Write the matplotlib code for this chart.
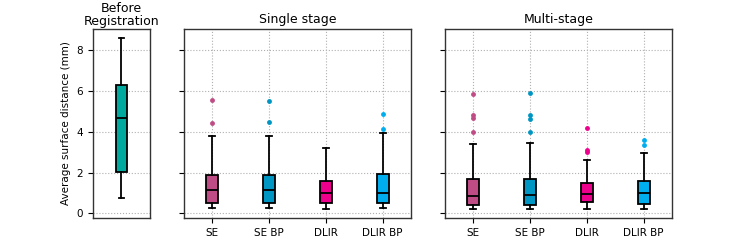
import matplotlib
matplotlib.use('Agg')
import matplotlib.pyplot as plt

# box statistics: (whislo, q1, med, q3, whishi, fliers)
methods = ['SE', 'SE BP', 'DLIR', 'DLIR BP']
colors = ['#c04c85', '#0096c4', '#ec008c', '#00aeef']
before_color = '#00a99d'

before_stats = [0.77, 2.01, 4.67, 6.27, 8.58, []]

single_stats = [
    [0.25, 0.49, 1.13, 1.89, 3.79, [5.55, 4.44]],
    [0.25, 0.49, 1.13, 1.86, 3.77, [5.52, 4.47]],
    [0.20, 0.49, 0.98, 1.60, 3.19, []],
    [0.29, 0.49, 1.01, 1.91, 3.95, [4.87, 4.15]],
]

multi_stats = [
    [0.20, 0.44, 0.88, 1.70, 3.40, [5.86, 4.82, 4.66, 3.99]],
    [0.20, 0.44, 0.90, 1.67, 3.45, [5.88, 4.84, 4.64, 3.99]],
    [0.23, 0.54, 0.95, 1.50, 2.60, [4.20, 3.10, 3.02]],
    [0.23, 0.47, 0.98, 1.58, 2.97, [3.59, 3.36]],
]


def to_dict(s, label):
    return dict(whislo=s[0], q1=s[1], med=s[2], q3=s[3], whishi=s[4],
                fliers=s[5], label=label)


def draw(ax, stats, labels, cols):
    bp = ax.bxp([to_dict(s, l) for s, l in zip(stats, labels)],
                widths=0.21, patch_artist=True, showfliers=True,
                boxprops=dict(linewidth=1.3, edgecolor='black'),
                medianprops=dict(color='black', linewidth=1.3),
                whiskerprops=dict(linewidth=1.3),
                capprops=dict(linewidth=1.3))
    for patch, c in zip(bp['boxes'], cols):
        patch.set_facecolor(c)
    for fl, c in zip(bp['fliers'], cols):
        fl.set(marker='o', markersize=3.5, markerfacecolor=c,
               markeredgecolor='none')
    ax.grid(True, linestyle=':', color='#b0b0b0', linewidth=0.8)
    ax.set_axisbelow(True)
    ax.tick_params(labelsize=7.5)
    for sp in ax.spines.values():
        sp.set_linewidth(1.0)
        sp.set_color('#333333')


fig = plt.figure(figsize=(7.47, 2.49), dpi=100)
ax0 = fig.add_axes([0.1245, 0.1245, 0.0763, 0.759])
ax1 = fig.add_axes([0.2463, 0.1245, 0.3039, 0.759], sharey=ax0)
ax2 = fig.add_axes([0.5957, 0.1245, 0.3039, 0.759], sharey=ax0)

draw(ax0, [before_stats], [''], [before_color])
draw(ax1, single_stats, methods, colors)
draw(ax2, multi_stats, methods, colors)

ax0.set_xticks([])
ax0.set_ylim(-0.22, 9.02)
ax0.set_yticks([0, 2, 4, 6, 8])
ax0.set_ylabel('Average surface distance (mm)', fontsize=7.5)
ax1.tick_params(labelleft=False)
ax2.tick_params(labelleft=False)

ax0.set_title('Before\nRegistration', fontsize=9, linespacing=1.0, pad=3)
ax1.set_title('Single stage', fontsize=9, pad=4)
ax2.set_title('Multi-stage', fontsize=9, pad=4)

fig.savefig('out.png', dpi=100)
